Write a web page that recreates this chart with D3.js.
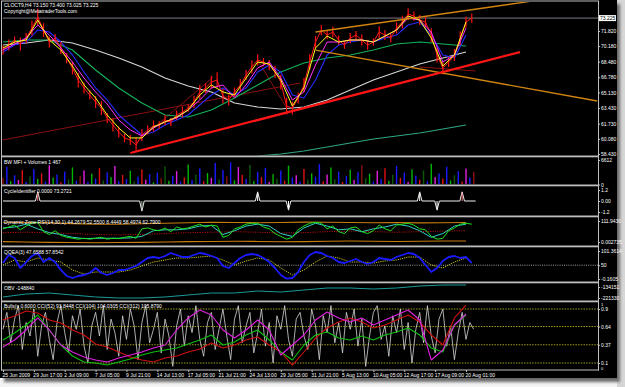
<!DOCTYPE html>
<html><head><meta charset="utf-8">
<script src="https://cdn.jsdelivr.net/npm/d3@7"></script>
<style>
html,body{margin:0;padding:0;background:#fff;overflow:hidden}
svg text{font-family:"Liberation Sans",Arial,sans-serif;}
.ax path{display:none}
.ax line{stroke:#c0c0c0}
.ax text{fill:#ffffff;font-size:5px}
</style>
</head><body>
<svg id="c" width="625" height="387"></svg>
<script>
// ---------------- DATA ----------------
const timeBars = [0,16,32,48,64,80,96,112,128,144,160,176,192,208,224,240];
const timeLabels = ["25 Jun 2009","29 Jun 17:00","2 Jul 09:00","7 Jul 05:00","9 Jul 21:00","14 Jul 13:00","17 Jul 05:00","21 Jul 21:00","24 Jul 13:00","29 Jul 05:00","31 Jul 21:00","5 Aug 13:00","10 Aug 05:00","12 Aug 17:00","17 Aug 09:00","20 Aug 01:00"];
const priceLabels = ["71.820","70.180","68.480","66.780","65.130","63.430","61.730","60.080","58.430"];
const lastPrice = 73.225;

// price close, every 3 bars
const closeP = [69.75,70.29,70.83,70.40,71.05,72.14,73.34,71.92,70.62,71.05,
 69.96,68.87,67.79,66.48,65.61,64.85,64.09,63.43,62.35,61.59,
 60.82,60.17,59.95,59.41,60.50,61.04,61.48,61.59,62.13,61.91,
 62.67,62.99,63.43,64.09,65.18,65.61,66.26,66.48,64.74,64.31,
 65.18,65.94,67.03,67.90,68.66,68.44,68.11,67.35,66.26,63.65,
 63.43,64.52,65.94,68.44,70.62,71.92,71.38,71.70,70.83,70.29,
 71.05,71.38,70.83,70.29,70.62,71.70,71.38,71.05,72.14,72.79,
 73.66,73.44,73.01,72.79,71.38,69.20,67.79,68.44,69.20,71.05,
 72.79,73.23];
const barRange = [1.0,1.2,0.8,1.4,1.1,1.6,1.8,1.5,1.2,0.9,
 1.3,1.1,1.4,1.6,1.2,1.0,1.3,1.5,1.1,1.4,
 1.2,0.9,1.1,1.6,1.3,1.0,1.2,0.8,1.1,0.9,
 1.0,1.2,0.8,1.3,1.5,1.1,1.4,1.7,1.6,1.2,
 1.0,1.3,1.1,1.4,1.2,0.9,1.1,1.3,1.6,1.8,
 1.4,1.2,1.5,1.7,1.3,1.1,0.9,1.2,1.0,0.8,
 1.1,0.9,1.2,1.0,0.8,1.3,1.1,0.9,1.2,1.4,
 1.3,1.0,1.1,1.2,1.5,1.6,1.4,1.1,1.3,1.5,
 1.2,1.0];
// every 6 bars
const blueLine = [69.53,70.29,70.62,71.93,71.71,70.62,69.21,67.36,65.62,64.31,62.68,61.59,60.50,60.83,61.59,62.13,62.68,63.77,64.85,65.62,64.85,65.62,67.36,68.12,67.36,64.85,64.53,66.49,69.21,70.29,70.62,70.84,70.62,71.06,71.38,72.47,72.80,71.38,69.21,68.88,71.38];
const magentaLine = [69.75,70.40,71.06,72.47,71.38,69.97,68.44,66.70,65.18,63.87,62.13,61.05,60.39,61.26,61.92,62.35,63.22,64.31,65.62,65.94,64.53,65.94,67.79,68.44,66.70,64.31,65.18,68.12,70.62,70.62,70.84,70.84,70.62,71.27,71.93,73.23,73.01,71.71,68.44,69.21,72.14];
const yellowLine = [69.97,70.62,70.84,73.01,70.84,69.75,68.01,65.94,64.53,62.68,61.26,60.18,60.18,61.37,61.92,62.46,63.22,64.85,65.94,65.18,64.85,66.70,68.44,68.23,66.49,63.66,65.62,69.97,71.27,70.62,70.84,70.84,70.62,71.27,71.93,73.45,73.01,71.06,68.01,69.21,72.80];
// every 12 bars
const whiteMA = [70.29,70.51,70.84,70.51,69.75,68.88,67.90,66.70,65.83,65.18,63.98,63.55,63.33,63.55,64.31,65.40,66.49,67.36,68.23,68.88,69.53];
const greenMA = [70.62,70.84,70.84,69.75,67.57,65.62,63.98,62.68,62.46,63.22,64.53,65.94,67.36,68.34,68.88,69.21,69.75,70.40,70.62,70.40,70.19];
const tealMAStart = 132;
const tealMA = [58.22,58.43,58.76,59.20,59.63,60.07,60.39,60.72,61.16,61.59];
// trend lines [bar, bar] / [price, price]
const redTrendBars = [66,268], redTrendPrices = [58.54,69.53];
const orangeUpBars = [162,278], orangeUpPrices = [71.71,75.19];
const orangeLoBars = [162,308], orangeLoPrices = [69.75,64.20];
const darkBars = [[0,154],[69,109],[132,147],[216,245]];
const darkPrices = [[59.96,66.16],[59.63,66.81],[68.66,63.44],[67.90,67.47]];

// BW MFI volumes, every 2 bars
const volumes = [1800,4800,900,2500,1200,3900,700,2200,4200,1500,
 3000,800,5200,1900,2700,600,3500,1400,4600,1000,
 2300,3800,700,2900,1600,4400,1100,3300,2000,5000,
 900,2600,1500,3700,800,2100,4100,1300,2800,600,
 3200,1700,4900,1000,2400,3600,800,1900,5400,1200,
 2700,4300,900,3100,1800,5800,1400,3900,2200,6000,
 1100,4700,2600,1500,5300,900,3400,2000,4500,700,
 2800,1600,3800,1000,5100,1900,2500,800,4200,1300,
 3000,2100,5500,900,2700,4600,1400,3500,700,2300,
 4000,1200,3300,5200,1700,2900,800,3700,1500,4400,
 1000,2600,5000,1800,3200,700,4100,2400,1300,3800,
 900,5600,2000,3000,1600,4800,1100,2500,3600,800,
 4300,1900,3400];
const volColors = "kbgbmrbdbgrbmgbrbdgbkmbgbrdbgmbrbgdbrmbgbkdgbmbrgbdbrgmbdbkbgmrbdgbrbmgdbrgbmbrdgbbrmgdbrbgmbkdgbmbrgdbrbmgbrdbgmbrbgdbrmb";

// Cycle identifier spikes
const cycleBars = [18,72,132,148,216,225,238];
const cycleVals = [1.0,-1.1,1.0,-1.0,1.0,-1.0,1.0];
const cycleColors = ["#ff7070","#a0c0a0","#ffffff","#ffffff","#ffffff","#ffffff","#ff7070"];

// Dynamic Zone RSI
const dzGreen = [70,80,90,65,85,100,105,55,40,60,
 35,25,20,15,20,15,20,25,15,20,
 18,25,30,20,70,75,65,60,75,55,
 80,70,75,85,95,80,90,85,25,35,
 70,80,95,100,100,80,70,45,30,15,
 25,65,85,100,105,100,70,85,55,45,
 75,80,55,45,60,90,70,60,90,95,
 100,90,70,65,30,15,20,60,75,95,
 100,95];
const dzCyan = [75,80,95,70,50,40,25,18,20,20,20,22,30,60,65,65,70,85,88,40,60,85,95,85,45,30,75,100,85,65,70,55,70,80,95,85,60,25,45,85,95];
const dzUpper = [105,104,102,98,95,95,97,100,103,105,104,103,104,106,105,104,103,104,102,103,104];
const dzLower = [2,0,-2,-3,-4,-3,-2,0,2,3,4,3,1,2,4,5,4,3,4,5,5];
const dzMid = [50,52,50,45,40,38,40,45,50,52,55,52,48,50,55,58,55,52,55,58,60];

// QQEA
const qqeFast = [57.9,86.9,76.0,39.8,61.5,83.3,94.1,61.5,76.0,61.5,
 32.6,10.9,3.6,10.9,14.5,21.7,39.8,21.7,14.5,21.7,
 32.6,32.6,39.8,47.1,61.5,76.0,79.6,76.0,83.3,94.1,
 86.9,79.6,79.6,86.9,94.1,90.5,83.3,76.0,47.1,39.8,
 57.9,76.0,86.9,90.5,86.9,76.0,61.5,39.8,14.5,1.0,
 3.6,25.3,61.5,86.9,97.7,94.1,83.3,76.0,61.5,57.9,
 65.2,72.4,61.5,54.3,61.5,76.0,72.4,68.8,79.6,86.9,
 94.1,90.5,76.0,50.7,25.3,39.8,65.2,79.6,83.3,76.0,
 79.6,57.9];
const qqeSlow = [50.7,68.8,61.5,76.0,68.8,61.5,32.6,18.1,25.3,25.3,
 25.3,32.6,47.1,61.5,68.8,76.0,76.0,79.6,83.3,68.8,
 50.7,65.2,76.0,68.8,39.8,14.5,32.6,61.5,83.3,76.0,
 61.5,61.5,57.9,65.2,68.8,79.6,79.6,50.7,39.8,61.5,
 76.0];

// OBV, every 12 bars
const obv = [-213400,-189600,-181700,-197550,-213400,-221330,-221330,-213400,-197550,-181700,-181700,-165850,-173780,-157930,-142080,-142080,-150000,-142080,-126230,-118300,-118300];

// Bulls / CCI (normalised 0..1)
const bullsWhite = [0.60,0.85,0.40,0.75,0.95,0.30,0.70,0.50,0.90,0.20,
 0.65,0.85,0.45,0.15,0.70,0.95,0.55,0.25,0.80,0.60,
 0.90,0.35,0.10,0.65,0.85,0.50,0.95,0.30,0.75,0.55,
 0.20,0.80,0.45,0.90,0.65,0.15,0.70,0.95,0.40,0.60,
 0.85,0.25,0.75,0.50,0.05,0.65,0.90,0.35,0.80,0.55,
 0.95,0.45,0.20,0.70,0.85,0.30,0.60,0.90,0.50,0.15,
 0.75,0.95,0.40,0.65,0.85,0.25,0.55,0.90,0.35,0.70,
 0.10,0.80,0.60,0.95,0.45,0.20,0.75,0.85,0.50,0.30,
 0.90,0.65,0.15,0.80,0.55,0.95,0.40,0.70,0.25,0.85,
 0.60,0.90,0.35,0.75,0.05,0.50,0.85,0.95,0.45,0.65,
 0.20,0.80,0.55,0.90,0.30,0.70,0.10,0.60,0.85,0.40,
 0.95,0.50,0.25,0.75,0.90,0.35,0.65,0.15,0.55,0.85,
 0.45,0.70,0.60];
const cciRed = [0.737,0.796,0.870,0.841,0.737,0.693,0.589,0.515,0.381,0.337,0.263,0.189,0.144,0.115,0.174,0.204,0.263,0.307,0.396,0.322,0.367,0.441,0.485,0.367,0.263,0.070,0.263,0.470,0.619,0.707,0.767,0.707,0.619,0.663,0.737,0.811,0.707,0.515,0.367,0.767,0.959];
const cciGreen = [0.441,0.544,0.663,0.811,0.589,0.367,0.204,0.115,0.100,0.070,0.115,0.159,0.219,0.263,0.293,0.322,0.381,0.441,0.515,0.367,0.411,0.515,0.589,0.441,0.263,0.144,0.367,0.515,0.559,0.470,0.441,0.500,0.441,0.515,0.559,0.619,0.515,0.322,0.263,0.663,0.811];
const cciMagenta = [0.337,0.441,0.589,0.767,0.589,0.367,0.263,0.189,0.144,0.115,0.174,0.219,0.263,0.322,0.367,0.589,0.767,0.885,0.811,0.589,0.470,0.589,0.737,0.589,0.219,0.367,0.515,0.737,0.856,0.767,0.707,0.767,0.663,0.737,0.811,0.885,0.737,0.144,0.293,0.663,0.826];
const bullsLevels = [0.9,0.64,0.37,0.1];

// ---------------- DRAWING ----------------
const svg = d3.select('#c');
const defs = svg.append('defs');
defs.append('filter').attr('id','sh').attr('x','-5%').attr('y','-5%').attr('width','110%').attr('height','110%')
  .append('feGaussianBlur').attr('stdDeviation',1.5);
svg.append('rect').attr('width',625).attr('height',387).attr('fill','#f4f4f4');
svg.append('rect').attr('x',617).attr('y',0).attr('width',8).attr('height',387).attr('fill','#d6d6d6');
svg.append('rect').attr('x',4).attr('y',4).attr('width',616).attr('height',378).attr('fill','#6a6a6a').attr('filter','url(#sh)');
svg.append('rect').attr('width',617).attr('height',378).attr('fill','#000');

const x = d3.scaleLinear().domain([0,240]).range([3,466]);
const PX0 = 2, PX1 = 598;

const panels = {
  main:[2,155.5], bw:[157.5,184.5], cyc:[186.5,215.5], dz:[217.5,245.5],
  qq:[247.5,281.5], obv:[283.5,300.5], bu:[302.5,369.5]
};
Object.entries(panels).forEach(([k,[a,b]])=>{
  defs.append('clipPath').attr('id','cl-'+k).append('rect')
    .attr('x',PX0).attr('y',a).attr('width',PX1-PX0).attr('height',b-a);
});
function panel(k){ return svg.append('g').attr('clip-path','url(#cl-'+k+')'); }
function draw(g, vals, step, y, color, w, dash, start){
  start = start||0;
  g.append('path')
   .attr('d', d3.line().x((d,i)=>x(start+i*step)).y(d=>y(d))(vals))
   .attr('fill','none').attr('stroke',color).attr('stroke-width',w)
   .attr('stroke-dasharray',dash||null).attr('stroke-linejoin','round');
}
function seg(g, bars, vals, y, color, w){
  g.append('line').attr('x1',x(bars[0])).attr('x2',x(bars[1]))
   .attr('y1',y(vals[0])).attr('y2',y(vals[1]))
   .attr('stroke',color).attr('stroke-width',w);
}
function hline(g, v, y, color, dash){
  g.append('line').attr('x1',3).attr('x2',PX1).attr('y1',y(v)).attr('y2',y(v))
   .attr('stroke',color).attr('stroke-width',0.8).attr('stroke-dasharray',dash||null);
}
function title(txt, yb){
  svg.append('text').attr('x',4).attr('y',yb).attr('fill','#ffffff').attr('font-size','5px').text(txt);
}
function rightAxis(scale, vals, labels){
  return svg.append('g').attr('class','ax').attr('transform',`translate(${PX1},0)`)
    .call(d3.axisRight(scale).tickValues(vals).tickFormat((d,i)=>labels[i]).tickSize(2).tickPadding(1));
}

// ---- main panel ----
const yMain = d3.scaleLinear().domain([58.43,71.82]).range([154,31]);
const gm = panel('main');
hline(gm, lastPrice, yMain, '#9a9aaa');
darkBars.forEach((b,i)=>seg(gm, b, darkPrices[i], yMain, '#8a1010', 1));
draw(gm, tealMA, 12, yMain, '#2fa585', 1.1, null, tealMAStart);
draw(gm, whiteMA, 12, yMain, '#d8d8d8', 1.1);
draw(gm, greenMA, 12, yMain, '#12b35a', 1.1);
draw(gm, blueLine, 6, yMain, '#2a2aff', 1.1);
gm.selectAll('.hl').data(closeP).enter().append('line')
  .attr('x1',(d,i)=>x(i*3)).attr('x2',(d,i)=>x(i*3))
  .attr('y1',(d,i)=>yMain(d+barRange[i]/2)).attr('y2',(d,i)=>yMain(d-barRange[i]/2))
  .attr('stroke','#ff1010').attr('stroke-width',1.2);
draw(gm, closeP, 3, yMain, '#ff1a1a', 1);
draw(gm, magentaLine, 6, yMain, '#ff30ff', 1);
draw(gm, yellowLine, 6, yMain, '#ffff20', 1);
seg(gm, orangeUpBars, orangeUpPrices, yMain, '#d08510', 1.3);
seg(gm, orangeLoBars, orangeLoPrices, yMain, '#d08510', 1.3);
seg(gm, redTrendBars, redTrendPrices, yMain, '#ff1515', 2.3);
rightAxis(yMain, priceLabels.map(Number), priceLabels);
svg.append('rect').attr('x',PX1+1).attr('y',yMain(lastPrice)-3).attr('width',17).attr('height',6).attr('fill','#ffffff');
svg.append('text').attr('x',PX1+2).attr('y',yMain(lastPrice)+1.8).attr('fill','#000').attr('font-size','5px').text(lastPrice.toFixed(3));
title('CLOCT9,H4  73.150 73.400 73.025 73.225', 7);
title('Copyright@MetatraderTools.com', 12.5);

// ---- BW MFI ----
const yBW = d3.scaleLinear().domain([0,6612]).range([184.5,160]);
const colMap = {g:'#00b400', d:'#0a5a0a', b:'#1a1aff', r:'#e01010', m:'#e020e0', k:'#8a1010'};
const gb = panel('bw');
gb.selectAll('rect.v').data(volumes).enter().append('rect')
  .attr('x',(d,i)=>x(i*2)-0.7).attr('width',1.4)
  .attr('y',d=>yBW(d)).attr('height',d=>yBW(0)-yBW(d))
  .attr('fill',(d,i)=>colMap[volColors[i % volColors.length]]);
rightAxis(yBW, [6612,0], ['6612','0']);
title('BW MFI + Volumes 1 467', 164);

// ---- Cycle Identifier ----
const yC = d3.scaleLinear().domain([-1.2,1.2]).range([212,190]);
const gc = panel('cyc');
const cycPts = [[0,0]];
cycleBars.forEach((b,i)=>{ cycPts.push([b-1.2,0],[b,cycleVals[i]],[b+1.2,0]); });
cycPts.push([245,0]);
gc.append('path').attr('d', d3.line().x(d=>x(d[0])).y(d=>yC(d[1]))(cycPts))
  .attr('fill','none').attr('stroke','#f0f0f0').attr('stroke-width',1);
cycleBars.forEach((b,i)=>{
  gc.append('line').attr('x1',x(b)).attr('x2',x(b)).attr('y1',yC(0)).attr('y2',yC(cycleVals[i]*0.85))
    .attr('stroke',cycleColors[i]).attr('stroke-width',1);
});
rightAxis(yC, [1.2,0,-1.2], ['1.2','0.00','-1.2']);
title('CycleIdentifier 0.0000 73.2721', 193);

// ---- Dynamic Zone RSI ----
const yDZ = d3.scaleLinear().domain([0.002735,111.943]).range([242,221]);
const gd = panel('dz');
draw(gd, dzUpper, 12, yDZ, '#c87d10', 1.1);
draw(gd, dzLower, 12, yDZ, '#c87d10', 1.1);
draw(gd, dzMid, 12, yDZ, '#b01010', 1, '1.2,1.2');
draw(gd, dzCyan, 6, yDZ, '#30d0c0', 1);
draw(gd, dzGreen, 3, yDZ, '#20e020', 1);
rightAxis(yDZ, [111.943,0.002735], ['111.9430','0.002735']);
title('Dynamic Zone RSI(14,30,1) 44.2679 52.5500 8.4449 58.4974 62.7900', 224);

// ---- QQEA ----
const yQ = d3.scaleLinear().domain([0,101.3614]).range([279,251]);
const gq = panel('qq');
hline(gq, 50, yQ, '#c8c8c8', '1,1.2');
draw(gq, qqeSlow, 6, yQ, '#c8c820', 1, '1.2,1');
draw(gq, qqeFast, 3, yQ, '#1a1aff', 1.8);
rightAxis(yQ, [101.3614,50,0], ['101.3614','50','-0.1605']);
title('QQEA(3) 47.6588 57.8542', 254);

// ---- OBV ----
const yO = d3.scaleLinear().domain([-221330,-134151]).range([298,287]);
const go = panel('obv');
draw(go, obv, 12, yO, '#1a9a9a', 1);
rightAxis(yO, [-134151,-221330], ['-134151','-221330']);
title('OBV -148840', 290);

// ---- Bulls / CCI ----
const yB = d3.scaleLinear().domain([0,1]).range([369.75,302.25]);
const gu = panel('bu');
bullsLevels.forEach(v=>hline(gu, v, yB, '#c8c820', '1.5,1.2'));
draw(gu, bullsWhite, 2, yB, '#d8d8d8', 0.8);
draw(gu, cciRed, 6, yB, '#d01010', 1.1);
draw(gu, cciGreen, 6, yB, '#10c010', 1.1);
draw(gu, cciMagenta, 6, yB, '#e020e0', 1.1);
rightAxis(yB, bullsLevels, bullsLevels.map(String));
svg.append('text').attr('x',PX1+3).attr('y',yB(1)+3.6).attr('fill','#fff').attr('font-size','4px').text('1');
svg.append('text').attr('x',PX1+3).attr('y',yB(0)+0.6).attr('fill','#fff').attr('font-size','4px').text('0');
title('Bulls(s 0.6000  CCI(52) 93.8448  CCI(104) 104.0305  CCI(312) 105.8790', 308);

// ---- frame / separators ----
[155.5,184.5,215.5,245.5,281.5,300.5].forEach(yy=>{
  svg.append('rect').attr('x',PX0-1).attr('y',yy).attr('width',PX1-PX0+1.5).attr('height',1.8).attr('fill','#bdbdbd');
});
svg.append('line').attr('x1',1.5).attr('x2',1.5).attr('y1',1).attr('y2',370.5).attr('stroke','#bdbdbd').attr('stroke-width',1);
svg.append('line').attr('x1',PX1+0.5).attr('x2',PX1+0.5).attr('y1',1).attr('y2',370.5).attr('stroke','#bdbdbd').attr('stroke-width',1);
svg.append('line').attr('x1',1).attr('x2',PX1+1).attr('y1',1).attr('y2',1).attr('stroke','#bdbdbd').attr('stroke-width',1);
svg.append('line').attr('x1',1).attr('x2',PX1+1).attr('y1',370).attr('y2',370).attr('stroke','#bdbdbd').attr('stroke-width',1);

// ---- time axis ----
const ta = svg.append('g').attr('class','ax').attr('transform','translate(0,370)')
  .call(d3.axisBottom(x).tickValues(timeBars).tickFormat((d,i)=>timeLabels[i]).tickSize(2).tickPadding(1));
ta.selectAll('text').attr('text-anchor','start').attr('dx','-1');
</script>
</body></html>
